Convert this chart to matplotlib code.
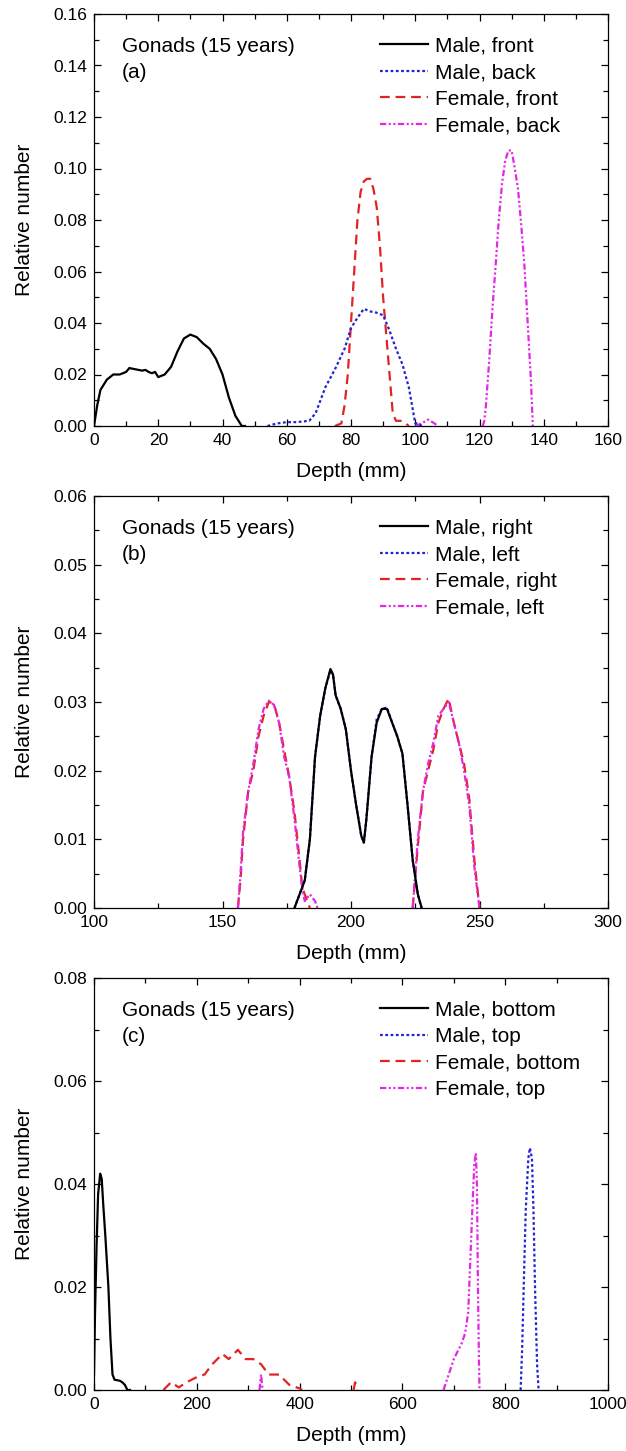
"""
    Gonads (15 years): relative number vs depth, three irradiation geometries
"""
import numpy as np
import matplotlib
matplotlib.use('Agg')
import matplotlib.pyplot as plt
from matplotlib.ticker import MultipleLocator

plt.rcParams['font.family'] = ['Liberation Sans', 'DejaVu Sans']
plt.rcParams['lines.scale_dashes'] = False
nan = np.nan  # 分段用

# ---------------- 数据 (a) front / back ----------------
a_m_front_x = [0, 1, 2, 4, 6, 8, 10, 11, 13, 15, 16, 17, 18, 19, 20, 22, 24, 26, 28, 30,
               32, 34, 36, 38, 40, 42, 44, 46, 47]
a_m_front_y = [0, 0.008, 0.014, 0.018, 0.020, 0.020, 0.021, 0.0225, 0.022, 0.0215, 0.0218,
               0.021, 0.0205, 0.021, 0.019, 0.020, 0.023, 0.029, 0.034, 0.0355,
               0.0345, 0.032, 0.030, 0.026, 0.020, 0.011, 0.004, 0.0, 0.0]
a_m_back_x = [54, 57, 60, 63, 67, 69, 72, 75, 78, 80, 82, 84, 86, 88, 90, 92, 94, 96, 98,
              99, 100, 101, 102]
a_m_back_y = [0, 0.001, 0.0015, 0.0015, 0.002, 0.005, 0.015, 0.022, 0.030, 0.038, 0.042,
              0.0455, 0.0445, 0.044, 0.043, 0.037, 0.030, 0.024, 0.015, 0.008, 0.001,
              0.001, 0.0]
a_f_front_x = [75, 77, 78, 79, 80, 81, 82, 83, 84, 85, 86, 87, 88, 89, 90, 91, 92, 93,
               94, 96, 98]
a_f_front_y = [0, 0.001, 0.008, 0.020, 0.040, 0.060, 0.080, 0.091, 0.095, 0.096, 0.096,
               0.092, 0.085, 0.070, 0.050, 0.035, 0.020, 0.005, 0.002, 0.002, 0.0]
a_f_back_x = [100, 102, 104, 106, 107, 114, 121, 121.5, 122, 123, 124, 125, 126, 127, 128,
              129, 130, 131, 132, 133, 134, 135, 136, 136.6]
a_f_back_y = [0, 0.001, 0.0025, 0.001, 0, nan, 0, 0.002, 0.008, 0.025, 0.045, 0.062,
              0.080, 0.094, 0.103, 0.107, 0.107, 0.100, 0.092, 0.078, 0.062, 0.040,
              0.018, 0.0]

# ---------------- 数据 (b) right / left ----------------
b_m_right_x = [178, 180, 182, 184, 186, 188, 190, 192, 193, 194, 196, 198, 200, 202, 204,
               205, 206, 208, 210, 212, 214, 216, 218, 220, 222, 224, 226, 227.5]
b_m_right_y = [0, 0.002, 0.004, 0.010, 0.022, 0.028, 0.032, 0.0348, 0.034, 0.031, 0.029,
               0.026, 0.020, 0.015, 0.0105, 0.0095, 0.013, 0.022, 0.027, 0.029, 0.029,
               0.027, 0.025, 0.0225, 0.015, 0.007, 0.002, 0.0]
b_m_left_x = [178, 180, 182, 184, 186, 188, 190, 192, 193, 194, 196, 198, 200, 202, 204,
              205, 206, 208, 210, 212, 214, 216, 218, 220, 222, 224, 226, 227.5]
b_m_left_y = [0, 0.002, 0.004, 0.010, 0.022, 0.028, 0.032, 0.0346, 0.034, 0.031, 0.029,
              0.026, 0.020, 0.015, 0.0105, 0.0096, 0.013, 0.022, 0.0275, 0.029, 0.0292,
              0.027, 0.025, 0.0225, 0.015, 0.007, 0.002, 0.0]
b_f_right_x = [156, 157, 158, 160, 162, 164, 166, 168, 170, 172, 174, 176, 178, 180, 181,
               182, 183, 184, 200, 224, 226, 228, 230, 232, 234, 236, 238, 240, 242, 244,
               246, 248, 250]
b_f_right_y = [0, 0.004, 0.010, 0.017, 0.020, 0.025, 0.028, 0.030, 0.0298, 0.027, 0.023,
               0.019, 0.014, 0.007, 0.003, 0.002, 0.001, 0.0, nan, 0.0, 0.009, 0.017,
               0.020, 0.023, 0.027, 0.029, 0.0305, 0.027, 0.024, 0.021, 0.016, 0.007, 0.0]
b_f_left_x = [156, 157, 158, 160, 162, 164, 166, 168, 170, 172, 174, 176, 178, 180, 181,
              182, 184, 186, 187, 200, 224, 226, 228, 230, 232, 234, 236, 238, 240, 242,
              244, 246, 248, 250]
b_f_left_y = [0, 0.005, 0.011, 0.017, 0.021, 0.026, 0.029, 0.0302, 0.0296, 0.027, 0.022,
              0.019, 0.013, 0.006, 0.003, 0.001, 0.002, 0.001, 0.0, nan, 0.0, 0.010,
              0.017, 0.021, 0.024, 0.028, 0.029, 0.030, 0.027, 0.024, 0.020, 0.015,
              0.006, 0.0]

# ---------------- 数据 (c) bottom / top ----------------
c_m_bottom_x = [0, 2, 5, 8, 12, 15, 18, 22, 28, 32, 36, 40, 50, 55, 60, 65, 70]
c_m_bottom_y = [0.003, 0.015, 0.028, 0.038, 0.042, 0.041, 0.036, 0.030, 0.020, 0.010,
                0.003, 0.002, 0.0018, 0.0015, 0.001, 0.0, 0.0]
c_m_top_x = [830, 833, 836, 840, 845, 848, 852, 855, 858, 862, 865]
c_m_top_y = [0, 0.008, 0.020, 0.035, 0.045, 0.047, 0.045, 0.035, 0.020, 0.005, 0.0]
c_f_bottom_x = [135, 150, 165, 180, 200, 215, 230, 250, 262, 280, 295, 310, 325, 340, 360,
                380, 400, 405, 450, 505, 508, 512]
c_f_bottom_y = [0, 0.0015, 0.0005, 0.0015, 0.0025, 0.003, 0.005, 0.007, 0.006, 0.0078,
                0.006, 0.006, 0.005, 0.003, 0.003, 0.001, 0.0003, 0, nan, 0, 0.0015, 0]
c_f_top_x = [322, 325, 328, 500, 680, 690, 700, 715, 722, 728, 732, 736, 740, 743, 745,
             747, 749, 750]
c_f_top_y = [0, 0.003, 0, nan, 0, 0.003, 0.006, 0.009, 0.011, 0.015, 0.025, 0.035, 0.044,
             0.046, 0.040, 0.020, 0.005, 0.0]

# 线型 (黑线放在最上层)
styles = [
    dict(color='black', linestyle='-', zorder=5),
    dict(color='#2323d2', linestyle=(0, (2.0, 1.8)), zorder=4),
    dict(color='#e02424', linestyle=(0, (7.0, 4.2)), zorder=2),
    dict(color='#e526e5', linestyle=(0, (4.5, 1.8, 1.5, 1.8, 1.5, 1.8)), zorder=3),
]

panels = [
    dict(tag='(a)', xs=[a_m_front_x, a_m_back_x, a_f_front_x, a_f_back_x],
         ys=[a_m_front_y, a_m_back_y, a_f_front_y, a_f_back_y],
         labels=['Male, front', 'Male, back', 'Female, front', 'Female, back'],
         xlim=(0, 160), ylim=(0, 0.16), xmaj=20, xmin=10, ymaj=0.02, ymin=0.01,
         bottom=1 - 426 / 1451),
    dict(tag='(b)', xs=[b_m_right_x, b_m_left_x, b_f_right_x, b_f_left_x],
         ys=[b_m_right_y, b_m_left_y, b_f_right_y, b_f_left_y],
         labels=['Male, right', 'Male, left', 'Female, right', 'Female, left'],
         xlim=(100, 300), ylim=(0, 0.06), xmaj=50, xmin=25, ymaj=0.01, ymin=0.005,
         bottom=1 - 908 / 1451),
    dict(tag='(c)', xs=[c_m_bottom_x, c_m_top_x, c_f_bottom_x, c_f_top_x],
         ys=[c_m_bottom_y, c_m_top_y, c_f_bottom_y, c_f_top_y],
         labels=['Male, bottom', 'Male, top', 'Female, bottom', 'Female, top'],
         xlim=(0, 1000), ylim=(0, 0.08), xmaj=200, xmin=100, ymaj=0.02, ymin=0.01,
         bottom=1 - 1390 / 1451),
]

fig = plt.figure(figsize=(6.26, 14.51), dpi=100)
for p in panels:
    ax = fig.add_axes([94 / 626, p['bottom'], 514 / 626, 412 / 1451])
    for i in range(4):
        ax.plot(p['xs'][i], p['ys'][i], lw=1.6, label=p['labels'][i], **styles[i])
    ax.set_xlim(*p['xlim'])
    ax.set_ylim(*p['ylim'])
    ax.xaxis.set_major_locator(MultipleLocator(p['xmaj']))
    ax.xaxis.set_minor_locator(MultipleLocator(p['xmin']))
    ax.yaxis.set_major_locator(MultipleLocator(p['ymaj']))
    ax.yaxis.set_minor_locator(MultipleLocator(p['ymin']))
    ax.yaxis.set_major_formatter(matplotlib.ticker.FormatStrFormatter('%.2f'))
    ax.tick_params(which='both', direction='in', top=True, right=True, width=0.9,
                   labelsize=12.5, pad=5)
    ax.tick_params(which='major', length=5)
    ax.tick_params(which='minor', length=3.5)
    for s in ax.spines.values():
        s.set_linewidth(0.9)
        s.set_zorder(6)
    ax.set_xlabel('Depth (mm)', fontsize=15, labelpad=10)
    ax.set_ylabel('Relative number', fontsize=15, labelpad=14)
    ax.text(0.054, 0.92, 'Gonads (15 years)', transform=ax.transAxes, fontsize=15,
            va='center', ha='left')
    ax.text(0.054, 0.857, p['tag'], transform=ax.transAxes, fontsize=15,
            va='center', ha='left')
    ax.legend(loc='upper left', bbox_to_anchor=(0.556, 0.945), frameon=False,
              fontsize=15, borderpad=0, borderaxespad=0, handlelength=2.3,
              handletextpad=0.35, labelspacing=0.36)

plt.savefig('out.png', dpi=100)
